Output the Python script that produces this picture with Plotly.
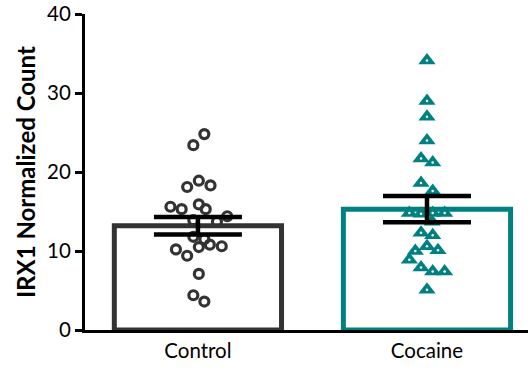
import plotly.graph_objects as go

categories = ["Control", "Cocaine"]
bar_means = [13.2, 15.3]
bar_sem = [1.1, 1.65]

control_values = [24.8, 23.4, 18.1, 18.9, 18.3, 15.6, 15.3, 15.9, 15.3, 14.4, 13.9,
                  13.7, 11.8, 11.5, 10.2, 9.4, 10.5, 10.8, 10.6, 7.1, 4.4, 3.6]
control_jitter = [0.028, -0.02, -0.047, 0.004, 0.055, -0.12, -0.071, 0.004, 0.034, 0.128, -0.02,
                  0.083, -0.02, 0.028, -0.096, -0.047, 0.004, 0.052, 0.104, 0.004, -0.02, 0.028]

cocaine_values = [34.1, 29.0, 27.0, 24.0, 21.7, 21.2, 18.6, 17.6, 14.8, 14.7, 14.8, 14.8,
                  13.7, 12.3, 12.0, 10.6, 10.1, 10.0, 8.9, 7.9, 7.4, 7.4, 5.1]
cocaine_jitter = [0.0, 0.0, 0.0, 0.0, -0.026, 0.025, -0.026, 0.025, -0.077, -0.026, 0.025, 0.077,
                  0.022, -0.026, 0.025, 0.0, 0.048, -0.051, -0.077, -0.026, 0.025, 0.077, 0.0]

y_title = "IRX1 Normalized Count"

dark = "#333333"
teal = "#008080"

fig = go.Figure()

fig.add_trace(go.Bar(
    x=[0, 1], y=bar_means, width=0.73,
    marker=dict(color="white", line=dict(color=[dark, teal], width=5)),
    showlegend=False, hoverinfo="skip",
))

fig.add_trace(go.Scatter(
    x=[0 + j for j in control_jitter], y=control_values, mode="markers",
    marker=dict(symbol="circle-open", size=9, color=dark, line=dict(width=3.2, color=dark)),
    showlegend=False, cliponaxis=False,
))

fig.add_trace(go.Scatter(
    x=[1 + j for j in cocaine_jitter], y=cocaine_values, mode="markers",
    marker=dict(symbol="triangle-up", size=15, color=teal, line=dict(width=0)),
    showlegend=False, cliponaxis=False,
))
fig.add_trace(go.Scatter(
    x=[1 + j for j in cocaine_jitter], y=cocaine_values, mode="markers",
    marker=dict(symbol="circle", size=2.5, color="white"),
    showlegend=False, cliponaxis=False, hoverinfo="skip",
))

fig.add_trace(go.Scatter(
    x=[0, 1], y=bar_means, mode="markers",
    marker=dict(size=1, color="rgba(0,0,0,0)"),
    error_y=dict(type="data", array=bar_sem, visible=True, color="black", thickness=4.5, width=44),
    showlegend=False, cliponaxis=False,
))

fig.update_layout(
    width=531, height=374,
    margin=dict(l=85, r=3, t=14, b=44),
    plot_bgcolor="white", paper_bgcolor="white",
    font=dict(family="Lato, Liberation Sans, sans-serif", color="black", size=16),
    xaxis=dict(
        range=[-0.493, 1.441], showgrid=False, zeroline=False, automargin=False,
        showline=True, linecolor="black", linewidth=3,
        tickvals=[0, 1], ticktext=categories, ticks="",
        tickfont=dict(size=20.5), ticklabeloverflow="allow",
    ),
    yaxis=dict(
        range=[0, 40], showgrid=False, zeroline=False, automargin=False,
        showline=True, linecolor="black", linewidth=3,
        ticks="outside", ticklen=7, tickwidth=3, tickcolor="black",
        tickvals=[0, 10, 20, 30, 40], tickfont=dict(size=20.5),
        ticklabeloverflow="allow",
    ),
    annotations=[dict(
        text="<b>" + y_title + "</b>", textangle=-90,
        xref="paper", yref="paper", x=(25 - 85) / 443, y=0.5,
        xanchor="center", yanchor="middle", showarrow=False,
        font=dict(size=24),
    )],
)

fig.write_html("out.html", config={"displayModeBar": False},
               post_script="document.body.style.margin='0';")
